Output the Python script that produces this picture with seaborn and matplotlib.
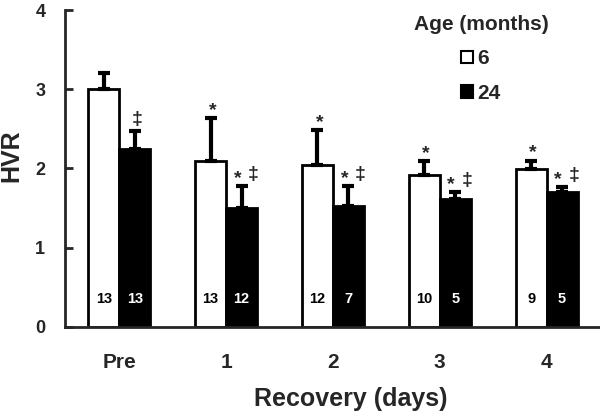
"""HVR before and during recovery, 6 vs 24 month animals."""

import matplotlib
matplotlib.use("Agg")
import matplotlib.pyplot as plt
from matplotlib.patches import Patch
import numpy as np
import pandas as pd
import seaborn as sns

DAYS = ["Pre", "1", "2", "3", "4"]
AGES = ["6", "24"]
MEAN_6 = [3.00, 2.10, 2.05, 1.92, 1.99]
SEM_6 = [0.20, 0.54, 0.43, 0.17, 0.11]
MEAN_24 = [2.24, 1.50, 1.53, 1.62, 1.70]
SEM_24 = [0.23, 0.28, 0.25, 0.08, 0.06]
N_6 = ["13", "13", "12", "10", "9"]
N_24 = ["13", "12", "7", "5", "5"]
MARK_6 = ["", "*", "*", "*", "*"]
MARK_24 = [("", "\u2021"), ("*", "\u2021"), ("*", "\u2021"), ("*", "\u2021"), ("*", "\u2021")]

sns.set_style("ticks")
plt.rcParams["font.family"] = ["Liberation Sans", "DejaVu Sans"]
plt.rcParams["font.weight"] = "bold"

df = pd.DataFrame({
    "day": DAYS * 2,
    "age": [AGES[0]] * len(DAYS) + [AGES[1]] * len(DAYS),
    "hvr": MEAN_6 + MEAN_24,
})

fig = plt.figure(figsize=(6, 4.17), dpi=100)
ax = fig.add_axes([0.108, 0.216, 0.892, 0.760])

sns.barplot(
    data=df, x="day", y="hvr", hue="age", order=DAYS, hue_order=AGES,
    palette={"6": "white", "24": "black"}, edgecolor="black", linewidth=2,
    width=0.58, errorbar=None, legend=False, ax=ax,
)

for cont, sems, counts, txt_color in [
    (ax.containers[0], SEM_6, N_6, "black"),
    (ax.containers[1], SEM_24, N_24, "white"),
]:
    xs = np.array([b.get_x() + b.get_width() / 2 for b in cont])
    ys = np.array([b.get_height() for b in cont])
    ax.errorbar(xs, ys, yerr=[np.zeros_like(ys), sems], fmt="none",
                ecolor="black", elinewidth=3, capsize=4, capthick=3, zorder=3)
    for x, n in zip(xs, counts):
        ax.text(x, 0.35, n, ha="center", va="center", color=txt_color,
                fontsize=10.5, fontweight="bold")

# significance marks above the error bars
for b, sem, mk in zip(ax.containers[0], SEM_6, MARK_6):
    if mk:
        x = b.get_x() + b.get_width() / 2
        ax.annotate(mk, (x, b.get_height() + sem), xytext=(2, 3),
                    textcoords="offset pixels", ha="center", va="baseline",
                    fontsize=14, fontweight="bold")
for b, sem, (star, dag) in zip(ax.containers[1], SEM_24, MARK_24):
    x = b.get_x() + b.get_width() / 2
    top = b.get_height() + sem
    if star:
        ax.annotate(star, (x, top), xytext=(-4, 3), textcoords="offset pixels",
                    ha="center", va="baseline", fontsize=14, fontweight="bold")
        ax.annotate(dag, (x, top), xytext=(12, 7), textcoords="offset pixels",
                    ha="center", va="baseline", fontsize=14, fontweight="bold")
    else:
        ax.annotate(dag, (x, top), xytext=(2, 7), textcoords="offset pixels",
                    ha="center", va="baseline", fontsize=14, fontweight="bold")

ax.set_ylim(0, 4)
ax.set_xlim(-0.51, 4.5)
ax.set_yticks([0, 1, 2, 3, 4])
ax.tick_params(axis="y", direction="in", length=6, width=2, pad=14, labelsize=13)
ax.tick_params(axis="x", length=0, pad=19, labelsize=15)
for lab in ax.get_xticklabels() + ax.get_yticklabels():
    lab.set_fontweight("bold")

sns.despine(ax=ax)
ax.spines["left"].set_linewidth(2)
ax.spines["bottom"].set_linewidth(2)

ax.set_xlabel("Recovery (days)", fontsize=18, fontweight="bold")
ax.xaxis.set_label_coords(0.535, -0.19)
ax.set_ylabel("HVR", fontsize=18, fontweight="bold")
ax.yaxis.set_label_coords(-0.078, 0.54)

handles = [Patch(facecolor="white", edgecolor="black", linewidth=1.5),
           Patch(facecolor="black", edgecolor="black", linewidth=1.5)]
leg = fig.legend(handles, AGES, title="Age (months)", loc="upper center",
                 bbox_to_anchor=(481 / 600, 1.0), frameon=False,
                 prop={"weight": "bold", "size": 15}, handlelength=0.55,
                 handleheight=0.55, handletextpad=0.25, labelspacing=0.75,
                 borderpad=0.2)
leg.get_title().set_fontweight("bold")
leg.get_title().set_fontsize(15)

fig.savefig("out.png", dpi=100)
